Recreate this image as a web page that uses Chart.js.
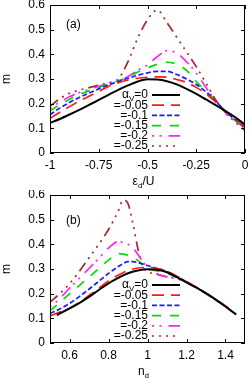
<!DOCTYPE html>
<html>
<head>
<meta charset="utf-8">
<script src="https://cdn.jsdelivr.net/npm/chart.js@4.4.1/dist/chart.umd.min.js"></script>
<style>
  body { margin: 0; background: #fff; }
  canvas { display: block; }
</style>
</head>
<body>
<canvas id="graficoA" width="249" height="190"></canvas>
<canvas id="graficoB" width="249" height="191"></canvas>
<script>
// leyenda: alpha_V
var alphaV = ['0', '-0.05', '-0.1', '-0.15', '-0.2', '-0.25'];

// panel (a): m contra eps_d/U
var epsA = [-1, -0.95, -0.9, -0.85, -0.8, -0.75, -0.7, -0.65, -0.6, -0.55, -0.5,
            -0.45, -0.4, -0.35, -0.3, -0.25, -0.2, -0.15, -0.1, -0.05, 0];
var mA0   = [0.122, 0.138, 0.156, 0.175, 0.195, 0.215, 0.236, 0.256, 0.274, 0.290, 0.299,
             0.298, 0.291, 0.278, 0.260, 0.240, 0.217, 0.194, 0.170, 0.145, 0.115];
var mA005 = [0.140, 0.165, 0.188, 0.210, 0.230, 0.250, 0.270, 0.285, 0.296, 0.303, 0.307,
             0.309, 0.307, 0.298, 0.286, 0.266, 0.240, 0.207, 0.170, 0.138, 0.105];
var mA01  = [0.155, 0.182, 0.205, 0.225, 0.243, 0.260, 0.276, 0.290, 0.303, 0.315, 0.325,
             0.331, 0.331, 0.318, 0.300, 0.278, 0.247, 0.210, 0.168, 0.135, 0.100];
var mA015 = [0.170, 0.196, 0.218, 0.237, 0.252, 0.266, 0.280, 0.293, 0.308, 0.328, 0.345,
             0.360, 0.368, 0.360, 0.335, 0.290, 0.250, 0.212, 0.166, 0.132, 0.097];
var mA02  = [0.180, 0.206, 0.228, 0.245, 0.258, 0.270, 0.282, 0.295, 0.310, 0.335, 0.357,
             0.390, 0.415, 0.405, 0.370, 0.325, 0.265, 0.213, 0.164, 0.128, 0.092];
var mA025 = [0.190, 0.220, 0.242, 0.255, 0.265, 0.275, 0.285, 0.300, 0.370, 0.466, 0.540,
             0.580, 0.528, 0.469, 0.410, 0.350, 0.283, 0.215, 0.162, 0.125, 0.090];

// panel (b): m contra n_d
var nB0 = [0.535, 0.6, 0.65, 0.7, 0.75, 0.8, 0.85, 0.9, 0.95, 1.0, 1.05, 1.1, 1.15,
           1.2, 1.25, 1.3, 1.35, 1.4, 1.455];
var mB0 = [0.113, 0.140, 0.162, 0.187, 0.215, 0.242, 0.264, 0.283, 0.294, 0.299, 0.297, 0.287, 0.267,
           0.246, 0.225, 0.201, 0.176, 0.148, 0.115];
var nB = [0.5, 0.55, 0.6, 0.65, 0.7, 0.75, 0.8, 0.85, 0.875, 0.9, 0.925, 0.95, 0.975,
          1.0, 1.05, 1.1, 1.15, 1.2, 1.25, 1.3, 1.35, 1.4, 1.43];
var mB005 = [0.110, 0.125, 0.140, 0.165, 0.193, 0.222, 0.252, 0.275, 0.285, 0.294, 0.300, 0.304, 0.306,
             0.306, 0.302, 0.290, 0.271, 0.249, 0.227, 0.203, 0.177, 0.150, 0.132];
var mB01  = [0.120, 0.138, 0.160, 0.188, 0.218, 0.250, 0.282, 0.310, 0.322, 0.330, 0.330, 0.326, 0.320,
             0.314, 0.302, 0.289, 0.270, 0.248, 0.226, 0.202, 0.176, 0.149, 0.131];
var mB015 = [0.130, 0.164, 0.199, 0.233, 0.267, 0.302, 0.336, 0.362, 0.360, 0.355, 0.345, 0.335, 0.318,
             0.303, 0.292, 0.282, 0.266, 0.246, 0.225, 0.201, 0.175, 0.148, 0.130];
var mB02  = [0.145, 0.180, 0.222, 0.262, 0.302, 0.343, 0.385, 0.411, 0.408, 0.400, 0.385, 0.360, 0.330,
             0.305, 0.280, 0.268, 0.260, 0.245, 0.224, 0.200, 0.174, 0.147, 0.129];
var mB025 = [0.165, 0.200, 0.240, 0.290, 0.345, 0.400, 0.460, 0.535, 0.580, 0.565, 0.485, 0.385, 0.310,
             0.290, 0.278, 0.268, 0.262, 0.246, 0.225, 0.201, 0.175, 0.148, 0.130];

var xTicksA = [-1, -0.75, -0.5, -0.25, 0];
var xTicksB = [0.6, 0.8, 1, 1.2, 1.4];
var yTicks = [0, 0.1, 0.2, 0.3, 0.4, 0.5, 0.6];

// estilos de linea (gnuplot)
var colores = ['#000000', '#ff1a1a', '#1a1aff', '#00dd00', '#ff22ff', '#a52a2a'];
var guiones = [[], [12, 7], [5, 2.5], [9, 9], [2, 5.5, 2, 7, 12, 4], [10, 5, 2, 5, 2, 5, 2, 5, 2, 5]];
var grosor = [2, 1.7, 1.7, 1.7, 1.7, 1.7];

var FUENTE = '12px "Liberation Sans", Arial, sans-serif';
var FUENTE_SUB = '8px "Liberation Sans", Arial, sans-serif';

function puntos(xs, ys) {
  return xs.map(function (x, i) { return { x: x, y: ys[i] }; });
}

function textoSub(ctx, partes, x, y, align) {
  var w = 0;
  partes.forEach(function (p) { ctx.font = p[1] ? FUENTE_SUB : FUENTE; w += ctx.measureText(p[0]).width; });
  var cx = align === 'right' ? x - w : (align === 'center' ? x - w / 2 : x);
  ctx.textAlign = 'left';
  ctx.textBaseline = 'middle';
  partes.forEach(function (p) {
    ctx.font = p[1] ? FUENTE_SUB : FUENTE;
    ctx.fillText(p[0], cx, p[1] ? y + 4 : y);
    cx += ctx.measureText(p[0]).width;
  });
}

// marco, ticks hacia dentro, leyenda y titulos al estilo gnuplot
var extrasGnuplot = {
  id: 'extrasGnuplot',
  afterDraw: function (chart, args, opts) {
    var ctx = chart.ctx, a = chart.chartArea;
    var sx = chart.scales.x, sy = chart.scales.y;
    ctx.save();
    ctx.strokeStyle = '#000';
    ctx.lineWidth = 1;
    ctx.strokeRect(a.left + 0.5, a.top + 0.5, a.right - a.left - 1, a.bottom - a.top - 1);
    ctx.beginPath();
    sx.ticks.forEach(function (t) {
      var px = Math.round(sx.getPixelForValue(t.value)) + 0.5;
      ctx.moveTo(px, a.bottom); ctx.lineTo(px, a.bottom - 4);
      ctx.moveTo(px, a.top); ctx.lineTo(px, a.top + 4);
    });
    sy.ticks.forEach(function (t) {
      var py = Math.round(sy.getPixelForValue(t.value)) + 0.5;
      ctx.moveTo(a.left, py); ctx.lineTo(a.left + 4, py);
      ctx.moveTo(a.right, py); ctx.lineTo(a.right - 4, py);
    });
    ctx.stroke();

    ctx.fillStyle = '#000';
    // leyenda
    chart.data.datasets.forEach(function (ds, i) {
      var y = a.top + 90 + i * 10.2;
      var partes = i === 0 ? [['\u03b1', 0], ['V', 1], ['=' + alphaV[i], 0]] : [['=' + alphaV[i], 0]];
      textoSub(ctx, partes, a.left + 98, y, 'right');
      ctx.save();
      ctx.strokeStyle = ds.borderColor;
      ctx.lineWidth = ds.borderWidth;
      ctx.setLineDash(ds.borderDash || []);
      ctx.lineDashOffset = i === 5 ? 15 : 0;
      ctx.beginPath();
      ctx.moveTo(a.left + 102, y); ctx.lineTo(a.left + 130, y);
      ctx.stroke();
      ctx.restore();
    });
    // titulos
    textoSub(ctx, opts.tituloX, (a.left + a.right) / 2 - 4, a.bottom + 29, 'center');
    ctx.save();
    ctx.translate(7, (a.top + a.bottom) / 2);
    ctx.rotate(-Math.PI / 2);
    textoSub(ctx, [['m', 0]], 0, 0, 'center');
    ctx.restore();
    textoSub(ctx, [[opts.panel, 0]], a.left + 16, a.top + opts.panelY, 'left');
    ctx.restore();
  }
};

function crearGrafico(id, xs0, ys0, xsC, series, xMin, xMax, xTicks, alturaX, opts) {
  var todas = [ys0].concat(series);
  var datasets = todas.map(function (ys, i) {
    return {
      label: alphaV[i],
      data: puntos(i === 0 ? xs0 : xsC, ys),
      borderColor: colores[i],
      borderWidth: grosor[i],
      borderDash: guiones[i],
      pointRadius: 0,
      cubicInterpolationMode: 'monotone',
      fill: false
    };
  });
  // negro dibujado encima
  datasets.forEach(function (d, i) { d.order = i === 0 ? 0 : i; });
  return new Chart(document.getElementById(id).getContext('2d'), {
    type: 'line',
    data: { datasets: datasets },
    options: {
      responsive: false,
      animation: false,
      devicePixelRatio: 1,
      layout: { padding: { left: 0, top: 5, right: 4, bottom: 0 } },
      plugins: { legend: { display: false }, tooltip: { enabled: false }, extrasGnuplot: opts },
      scales: {
        x: {
          type: 'linear', min: xMin, max: xMax,
          grid: { display: false, drawTicks: false },
          border: { display: false },
          afterBuildTicks: function (s) { s.ticks = xTicks.map(function (v) { return { value: v }; }); },
          afterFit: function (s) { s.height = alturaX; s.paddingLeft = 0; s.paddingRight = 0; },
          ticks: {
            padding: 5, color: '#000', maxRotation: 0, autoSkip: false,
            font: { family: '"Liberation Sans", Arial, sans-serif', size: 12 },
            callback: function (v) { return String(v); }
          }
        },
        y: {
          type: 'linear', min: 0, max: 0.6,
          grid: { display: false, drawTicks: false },
          border: { display: false },
          afterBuildTicks: function (s) { s.ticks = yTicks.map(function (v) { return { value: v }; }); },
          afterFit: function (s) { s.width = 50; s.paddingTop = 0; s.paddingBottom = 0; },
          ticks: {
            padding: 5, color: '#000', autoSkip: false,
            font: { family: '"Liberation Sans", Arial, sans-serif', size: 12 },
            callback: function (v) { return String(v); }
          }
        }
      }
    },
    plugins: [extrasGnuplot]
  });
}

var graficoA = crearGrafico('graficoA', epsA, mA0, epsA, [mA005, mA01, mA015, mA02, mA025],
  -1, 0, xTicksA, 37, { panel: '(a)', panelY: 20, tituloX: [['\u03b5', 0], ['d', 1], ['/U', 0]] });
var graficoB = crearGrafico('graficoB', nB0, mB0, nB, [mB005, mB01, mB015, mB02, mB025],
  0.5, 1.5, xTicksB, 38, { panel: '(b)', panelY: 26, tituloX: [['n', 0], ['d', 1]] });
</script>
</body>
</html>
